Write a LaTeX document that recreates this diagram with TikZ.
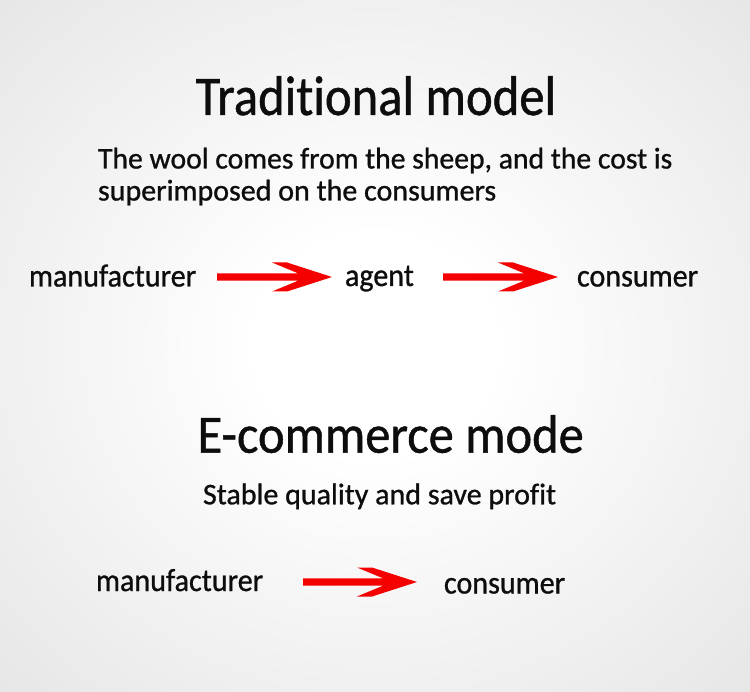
\documentclass[tikz,border=0pt]{standalone}
\usepackage{fontspec}
\setmainfont{Carlito}[FakeBold=0.9, Ligatures=NoCommon]
\usetikzlibrary{calc}
\pgfdeclareradialshading{bgshade}{\pgfpoint{0bp}{0bp}}{color(0bp)=(white); color(8bp)=(white); color(45bp)=(black!13); color(60bp)=(black!17); color(80bp)=(black!19)}
\newcommand{\sqz}[2]{\scalebox{#1}[1]{#2}}
\tikzset{
  txt/.style={inner sep=0pt, outer sep=0pt, text=black!95},
  titletxt/.style={txt, font=\fontsize{56}{62}\selectfont, anchor=base},
  subtxt/.style={txt, font=\fontsize{30}{34}\selectfont, anchor=base west},
  rowtxt/.style={txt, font=\fontsize{32}{36}\selectfont, anchor=base west},
  arrowred/.style={fill={rgb,255:red,245;green,0;blue,0}, draw=none,
    to path={ -- ++(0,-3.6) -- ($(\tikztotarget)+(-33.7,-3.6)$) -- ($(\tikztotarget)+(-60,-14.5)$)
      -- ($(\tikztotarget)+(-45,-14.5)$) -- (\tikztotarget) -- ($(\tikztotarget)+(-45,14.5)$)
      -- ($(\tikztotarget)+(-60,14.5)$) -- ($(\tikztotarget)+(-33.7,3.6)$) -- ($(\tikztostart)+(0,3.6)$) -- cycle}}
}
\begin{document}
\begin{tikzpicture}[x=1pt,y=-1pt]
\useasboundingbox (0,0) rectangle (750,692);
\shade[shading=bgshade] (0,0) rectangle (750,692);
% titles
\node[titletxt] (t1) at (376,115) {\sqz{0.905}{Traditional model}};
\node[subtxt] (s1a) at (98,168.5) {\sqz{0.99}{The wool comes from the sheep, and the cost is}};
\node[subtxt] (s1b) at (98,200.5) {\sqz{1.0}{superimposed on the consumers}};
% row 1
\node[rowtxt] (m1) at (29,286.5) {\sqz{0.94}{manufacturer}};
\node[rowtxt] (ag) at (345,286) {\sqz{0.94}{agent}};
\node[rowtxt] (c1) at (577,286.5) {\sqz{0.94}{consumer}};
\coordinate (a1s) at (217,277);
\coordinate (a1t) at (332,277);
\coordinate (a2s) at (443,277);
\coordinate (a2t) at (558,277);
\fill[arrowred] (a1s) to (a1t);
\fill[arrowred] (a2s) to (a2t);
% second block
\node[titletxt, font=\fontsize{54}{60}\selectfont] (t2) at (390.7,452.7) {\sqz{0.935}{E-commerce mode}};
\node[subtxt] (s2) at (203,504.3) {\sqz{1.0}{Stable quality and save profit}};
\node[rowtxt] (m2) at (96,591) {\sqz{0.94}{manufacturer}};
\node[rowtxt] (c2) at (444,593.5) {\sqz{0.94}{consumer}};
\coordinate (a3s) at (303,582);
\coordinate (a3t) at (417,582);
\fill[arrowred] (a3s) to (a3t);
\end{tikzpicture}
\end{document}
